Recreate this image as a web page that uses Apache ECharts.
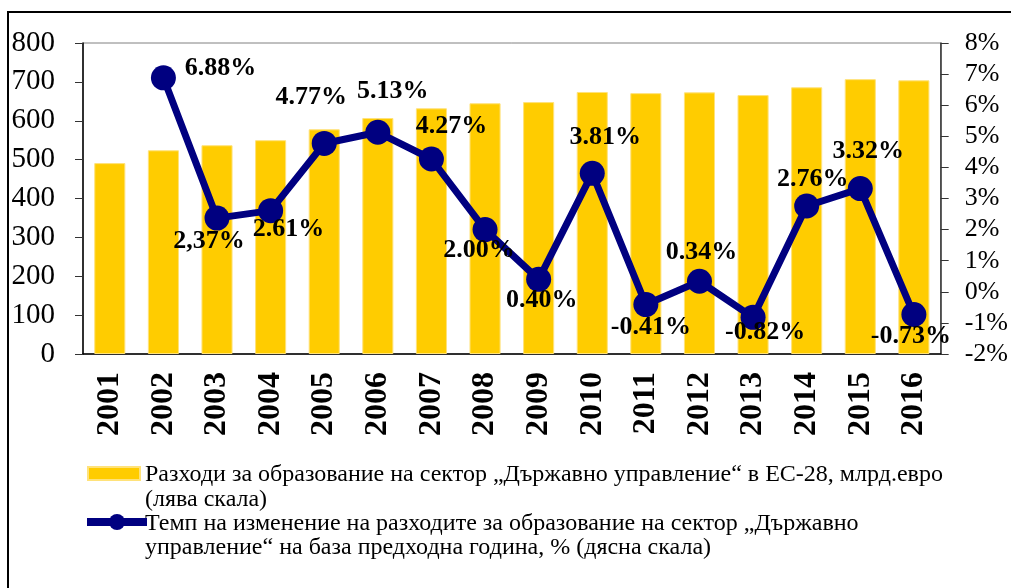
<!DOCTYPE html>
<html>
<head>
<meta charset="utf-8">
<script src="https://cdn.jsdelivr.net/npm/echarts@6/dist/echarts.min.js"></script>
<style>
  html, body { margin: 0; padding: 0; background: #fff; }
  #chart { width: 1011px; height: 588px; }
</style>
</head>
<body>
<div id="chart"></div>
<script>
// years on the x axis
var years = ['2001','2002','2003','2004','2005','2006','2007','2008','2009','2010','2011','2012','2013','2014','2015','2016'];
// spending, bn euro (left scale)
var spending = [491, 524, 537, 550, 578, 607, 632, 645, 648, 674, 671, 673, 666, 686, 707, 704];
// annual change, % (right scale)
var growth = [null, 6.88, 2.37, 2.61, 4.77, 5.13, 4.27, 2.00, 0.40, 3.81, -0.41, 0.34, -0.82, 2.76, 3.32, -0.73];
// label texts as printed in the source
var growthLabels = ['', '6.88%', '2,37%', '2.61%', '4.77%', '5.13%', '4.27%', '2.00%', '0.40%', '3.81%', '-0.41%', '0.34%', '-0.82%', '2.76%', '3.32%', '-0.73%'];

var barName = 'Разходи за образование на сектор „Държавно управление“ в ЕС-28, млрд.евро (лява скала)';
var lineName = 'Темп на изменение на разходите за образование на сектор „Държавно управление“ на база предходна година, % (дясна скала)';

// where each label sits relative to its point
var labelShift = [
  [0, 0], [57, -10], [-8, 23], [18, 19], [-13, -46], [15, -41], [20, -33], [-6, 21],
  [3, 21], [13, -36], [5, 23], [2, -29], [12, 15], [6, -27], [8, -37], [-3, 22]
];

var chart = echarts.init(document.getElementById('chart'));
var serif = 'Liberation Serif, Times New Roman, serif';

var lineData = growth.map(function (v, i) {
  return {
    value: v,
    label: { offset: labelShift[i], formatter: growthLabels[i] }
  };
});

var legendText = function (txt, x, y) {
  return {
    type: 'text', x: x, y: y,
    style: { text: txt, font: '24px ' + serif, fill: '#000', verticalAlign: 'middle' }
  };
};

var option = {
  animation: false,
  backgroundColor: '#fff',
  grid: {
    left: 83, right: 70, top: 43, bottom: 234,
    show: true, borderColor: '#808080', borderWidth: 1
  },
  legend: [
    {
      left: 87, top: 466, padding: 0, itemWidth: 52, itemHeight: 13,
      data: [{ name: barName, icon: 'rect' }],
      formatter: function () { return ''; },
      selectedMode: false
    },
    {
      left: 83, top: 512, padding: 0, itemWidth: 60, itemHeight: 20,
      data: [lineName],
      formatter: function () { return ''; },
      lineStyle: { width: 8 },
      selectedMode: false
    }
  ],
  graphic: [
    {
      type: 'rect', z: -1, silent: true,
      shape: { x: 8, y: 12, width: 1100, height: 700 },
      style: { fill: 'none', stroke: '#000', lineWidth: 2 }
    },
    legendText('Разходи за образование на сектор „Държавно управление“ в ЕС-28, млрд.евро', 145, 475),
    legendText('(лява скала)', 145, 500),
    legendText('Темп на изменение на разходите за образование на сектор „Държавно', 145, 524),
    legendText('управление“ на база предходна година, % (дясна скала)', 145, 548)
  ],
  xAxis: {
    type: 'category',
    data: years,
    axisLine: { lineStyle: { color: '#000', width: 1.5 } },
    axisTick: { length: 9, lineStyle: { color: '#333' } },
    axisLabel: {
      rotate: 90, margin: 18, color: '#000',
      fontFamily: serif, fontWeight: 'bold', fontSize: 32
    }
  },
  yAxis: [
    {
      type: 'value', min: 0, max: 800, interval: 100,
      splitLine: { show: false },
      axisLine: { show: true, lineStyle: { color: '#000', width: 1.5 } },
      axisTick: { show: true, length: 8, lineStyle: { color: '#333' } },
      axisLabel: { margin: 28, color: '#000', fontFamily: serif, fontSize: 29 }
    },
    {
      type: 'value', min: -2, max: 8, interval: 1, position: 'right',
      splitLine: { show: false },
      axisLine: { show: true, lineStyle: { color: '#333', width: 1.5 } },
      axisTick: { show: true, length: 8, lineStyle: { color: '#333' } },
      axisLabel: { margin: 24, color: '#000', fontFamily: serif, fontSize: 26, formatter: '{value}%' }
    }
  ],
  series: [
    {
      name: barName,
      type: 'bar',
      data: spending,
      barWidth: '58%',
      itemStyle: { color: '#FFCC00', borderColor: '#FFE27A', borderWidth: 1 }
    },
    {
      name: lineName,
      type: 'line',
      yAxisIndex: 1,
      data: lineData,
      symbol: 'circle',
      symbolSize: 25,
      showAllSymbol: true,
      lineStyle: { color: '#000080', width: 7 },
      itemStyle: { color: '#000080' },
      label: {
        show: true, position: 'inside',
        color: '#000', fontFamily: serif, fontWeight: 'bold', fontSize: 26
      },
      z: 3
    }
  ]
};

chart.setOption(option);
</script>
</body>
</html>
